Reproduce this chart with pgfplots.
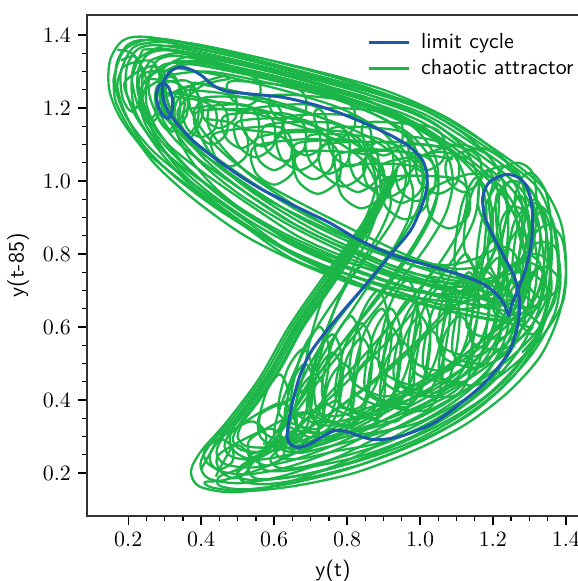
\documentclass[border=0pt]{standalone}
\usepackage{pgfplots}
\pgfplotsset{compat=1.18}
\definecolor{cgreen}{RGB}{28,182,72}
\definecolor{cblue}{RGB}{30,90,170}
\pgfplotsset{gr/.style={cgreen, line width=1.15pt, smooth, forget plot, no markers},
             bl/.style={cblue, line width=1.5pt, smooth, forget plot, no markers}}
\begin{document}
\begin{tikzpicture}
\begin{axis}[
 scale only axis, width=246pt, height=250.5pt,
 xmin=0.087, xmax=1.436, ymin=0.082, ymax=1.455,
 xtick={0.2,0.4,0.6,0.8,1.0,1.2,1.4}, ytick={0.2,0.4,0.6,0.8,1.0,1.2,1.4},
 minor tick num=3,
 tick align=outside, tick pos=left,
 major tick length=4.5pt, minor tick length=2.3pt,
 every tick/.style={black, line width=0.7pt},
 axis line style={line width=0.7pt, black!80},
 tick label style={font=\fontsize{10.95}{13}\selectfont},
 label style={font=\sffamily\fontsize{10.95}{13}\selectfont},
 xticklabel style={/pgf/number format/.cd, fixed, fixed zerofill, precision=1},
 yticklabel style={/pgf/number format/.cd, fixed, fixed zerofill, precision=1},
 xlabel={y(t)}, ylabel={y(t-85)},
 legend style={at={(axis description cs:1,1)}, anchor=north east, xshift=2.5pt, yshift=-5pt,
   draw=none, fill=none, font=\sffamily\fontsize{10.95}{13}\selectfont, row sep=0pt},
 legend cell align=left,
 legend image code/.code={\draw[#1] (0pt,0pt) -- (20pt,0pt); \path (23.5pt,0pt);},
]
\addlegendimage{cblue, line width=1.5pt}\addlegendentry{limit cycle}
\addlegendimage{cgreen, line width=1.5pt}\addlegendentry{chaotic attractor}

% nested envelope strokes
\addplot[gr] coordinates {(1.30,0.60)(1.05,0.65)(0.80,0.73)(0.644,0.79)(0.50,0.89)(0.36,0.99)(0.25,1.08)(0.18,1.17)(0.148,1.25)(0.15,1.33)(0.185,1.385)(0.25,1.395)(0.40,1.368)(0.60,1.32)(0.85,1.253)(1.03,1.193)(1.20,1.09)(1.33,0.99)(1.385,0.89)(1.40,0.78)(1.392,0.67)(1.335,0.575)(1.25,0.49)(1.12,0.40)(0.95,0.31)(0.78,0.225)(0.62,0.17)(0.49,0.147)(0.395,0.163)(0.372,0.205)(0.40,0.26)(0.47,0.34)(0.56,0.46)(0.64,0.60)(0.73,0.73)(0.84,0.88)(0.94,1.04)};
\addplot[gr] coordinates {(1.290,0.614)(1.05,0.663)(0.806,0.742)(0.651,0.803)(0.510,0.900)(0.372,0.997)(0.266,1.084)(0.198,1.170)(0.167,1.248)(0.169,1.324)(0.202,1.376)(0.264,1.386)(0.407,1.360)(0.602,1.314)(0.849,1.248)(1.025,1.188)(1.190,1.086)(1.317,0.988)(1.362,0.888)(1.378,0.78)(1.370,0.674)(1.316,0.584)(1.234,0.504)(1.11,0.418)(0.946,0.33)(0.784,0.248)(0.632,0.194)(0.508,0.172)(0.42,0.185)(0.398,0.224)(0.423,0.276)(0.488,0.352)(0.572,0.466)(0.648,0.60)(0.734,0.724)(0.842,0.874)(0.938,1.032)};
\addplot[gr] coordinates {(1.276,0.636)(1.05,0.683)(0.815,0.76)(0.661,0.823)(0.524,0.914)(0.39,1.008)(0.289,1.089)(0.225,1.17)(0.195,1.244)(0.197,1.315)(0.227,1.362)(0.286,1.372)(0.418,1.349)(0.606,1.305)(0.847,1.24)(1.018,1.18)(1.176,1.081)(1.297,0.984)(1.339,0.886)(1.356,0.78)(1.347,0.678)(1.297,0.593)(1.218,0.518)(1.10,0.436)(0.942,0.35)(0.788,0.271)(0.644,0.218)(0.526,0.196)(0.445,0.208)(0.423,0.243)(0.446,0.292)(0.506,0.364)(0.584,0.472)(0.656,0.60)(0.738,0.718)(0.844,0.868)(0.936,1.024)};
\addplot[gr] coordinates {(1.26,0.66)(1.05,0.705)(0.825,0.78)(0.672,0.845)(0.54,0.93)(0.41,1.02)(0.315,1.095)(0.255,1.17)(0.227,1.24)(0.228,1.305)(0.255,1.348)(0.31,1.358)(0.43,1.337)(0.61,1.295)(0.845,1.232)(1.01,1.172)(1.16,1.075)(1.275,0.98)(1.322,0.885)(1.340,0.78)(1.330,0.681)(1.283,0.60)(1.206,0.529)(1.093,0.450)(0.939,0.365)(0.791,0.288)(0.653,0.236)(0.540,0.215)(0.464,0.225)(0.442,0.257)(0.463,0.304)(0.520,0.373)(0.593,0.477)(0.662,0.60)(0.741,0.714)(0.846,0.864)(0.935,1.018)};
\addplot[gr] coordinates {(1.244,0.684)(1.05,0.727)(0.835,0.80)(0.683,0.867)(0.556,0.946)(0.43,1.032)(0.341,1.101)(0.285,1.17)(0.258,1.236)(0.259,1.295)(0.283,1.333)(0.334,1.343)(0.442,1.324)(0.614,1.285)(0.843,1.223)(1.002,1.163)(1.144,1.069)(1.253,0.976)(1.302,0.883)(1.321,0.78)(1.311,0.684)(1.267,0.607)(1.192,0.540)(1.084,0.465)(0.936,0.382)(0.794,0.308)(0.663,0.256)(0.555,0.236)(0.485,0.244)(0.464,0.273)(0.483,0.318)(0.535,0.383)(0.603,0.482)(0.669,0.60)(0.744,0.708)(0.847,0.858)(0.933,1.011)};
\addplot[gr] coordinates {(1.230,0.706)(1.05,0.747)(0.844,0.818)(0.693,0.887)(0.570,0.960)(0.448,1.043)(0.364,1.106)(0.312,1.17)(0.286,1.232)(0.286,1.286)(0.308,1.319)(0.356,1.329)(0.453,1.313)(0.618,1.276)(0.841,1.215)(0.995,1.155)(1.130,1.064)(1.233,0.972)(1.282,0.881)(1.301,0.78)(1.291,0.688)(1.250,0.616)(1.178,0.553)(1.075,0.481)(0.932,0.40)(0.798,0.329)(0.674,0.278)(0.571,0.258)(0.508,0.264)(0.487,0.291)(0.504,0.332)(0.551,0.394)(0.614,0.487)(0.676,0.60)(0.748,0.703)(0.849,0.853)(0.931,1.004)};
\addplot[gr] coordinates {(1.22,0.72)(1.05,0.76)(0.85,0.83)(0.70,0.90)(0.58,0.97)(0.46,1.05)(0.38,1.11)(0.33,1.17)(0.305,1.23)(0.305,1.28)(0.325,1.31)(0.37,1.32)(0.46,1.305)(0.62,1.27)(0.84,1.21)(0.99,1.15)(1.12,1.06)(1.22,0.97)(1.27,0.88)(1.29,0.78)(1.28,0.69)(1.24,0.62)(1.17,0.56)(1.07,0.49)(0.93,0.41)(0.80,0.34)(0.68,0.29)(0.58,0.27)(0.52,0.275)(0.50,0.30)(0.515,0.34)(0.56,0.40)(0.62,0.49)(0.68,0.60)(0.75,0.70)(0.85,0.85)(0.93,1.0)};

% limit-cycle-like loops
\addplot[gr] coordinates {(0.33,1.31)(0.45,1.29)(0.62,1.25)(0.78,1.20)(0.89,1.14)(0.95,1.07)(0.96,0.99)(0.93,0.90)(0.87,0.81)(0.80,0.72)(0.73,0.62)(0.68,0.53)(0.64,0.44)(0.61,0.36)(0.60,0.30)(0.62,0.265)(0.67,0.255)(0.74,0.27)(0.84,0.295)(0.95,0.33)(1.06,0.385)(1.16,0.455)(1.23,0.54)(1.27,0.63)(1.28,0.72)(1.26,0.80)(1.22,0.82)(1.16,0.79)(1.08,0.77)(0.98,0.78)(0.86,0.82)(0.72,0.88)(0.58,0.95)(0.46,1.03)(0.37,1.11)(0.31,1.19)(0.29,1.26)(0.30,1.30)(0.33,1.31)};
\addplot[gr] coordinates {(0.28,1.30)(0.36,1.34)(0.50,1.32)(0.70,1.27)(0.88,1.21)(1.00,1.15)(1.07,1.08)(1.09,1.00)(1.07,0.91)(1.01,0.81)(0.93,0.71)(0.84,0.60)(0.75,0.49)(0.67,0.38)(0.60,0.29)(0.56,0.24)(0.57,0.21)(0.62,0.205)(0.72,0.22)(0.85,0.25)(0.98,0.30)(1.10,0.37)(1.20,0.45)(1.28,0.55)(1.33,0.66)(1.35,0.78)(1.34,0.90)(1.30,0.98)(1.25,1.0)(1.21,0.96)(1.21,0.88)(1.22,0.78)(1.20,0.70)(1.12,0.68)(1.0,0.70)(0.86,0.74)(0.70,0.80)(0.55,0.88)(0.42,0.97)(0.32,1.06)(0.25,1.15)(0.23,1.23)(0.25,1.28)(0.28,1.30)};
\addplot[gr] coordinates {(0.38,1.27)(0.52,1.24)(0.66,1.20)(0.78,1.15)(0.85,1.08)(0.88,1.0)(0.86,0.92)(0.82,0.84)(0.77,0.76)(0.73,0.67)(0.70,0.57)(0.68,0.47)(0.66,0.39)(0.66,0.33)(0.69,0.30)(0.75,0.30)(0.83,0.32)(0.93,0.355)(1.03,0.40)(1.12,0.47)(1.18,0.55)(1.21,0.64)(1.21,0.72)(1.17,0.76)(1.09,0.76)(0.98,0.79)(0.85,0.85)(0.71,0.92)(0.58,0.99)(0.48,1.06)(0.41,1.13)(0.37,1.20)(0.37,1.25)(0.38,1.27)};
\addplot[gr] coordinates {(0.22,1.33)(0.30,1.37)(0.45,1.35)(0.65,1.30)(0.85,1.24)(1.02,1.17)(1.12,1.09)(1.16,1.0)(1.15,0.90)(1.10,0.80)(1.02,0.69)(0.92,0.57)(0.80,0.45)(0.68,0.34)(0.58,0.26)(0.51,0.22)(0.50,0.19)(0.55,0.18)(0.65,0.19)(0.78,0.22)(0.92,0.27)(1.06,0.335)(1.18,0.41)(1.27,0.50)(1.33,0.60)(1.36,0.70)(1.35,0.78)(1.31,0.80)(1.25,0.76)(1.18,0.72)(1.08,0.71)(0.95,0.73)(0.80,0.78)(0.64,0.85)(0.50,0.93)(0.38,1.02)(0.29,1.11)(0.23,1.20)(0.21,1.28)(0.22,1.33)};
\addplot[gr] coordinates {(0.31,1.29)(0.42,1.30)(0.58,1.27)(0.75,1.23)(0.90,1.17)(0.98,1.10)(1.01,1.02)(1.0,0.94)(0.96,0.86)(0.90,0.78)(0.83,0.69)(0.76,0.60)(0.70,0.50)(0.65,0.40)(0.62,0.32)(0.62,0.28)(0.66,0.265)(0.72,0.275)(0.80,0.30)(0.90,0.315)(1.0,0.34)(1.10,0.40)(1.18,0.47)(1.23,0.56)(1.25,0.66)(1.23,0.76)(1.20,0.86)(1.19,0.95)(1.22,1.03)(1.27,1.05)(1.31,1.02)(1.32,0.93)(1.31,0.82)(1.28,0.73)(1.24,0.66)(1.16,0.68)(1.05,0.71)(0.92,0.75)(0.78,0.81)(0.64,0.88)(0.51,0.96)(0.41,1.04)(0.34,1.12)(0.30,1.20)(0.29,1.26)(0.31,1.29)};
\addplot[gr] coordinates {(0.18,1.30)(0.22,1.37)(0.35,1.38)(0.55,1.34)(0.78,1.28)(0.98,1.21)(1.12,1.13)(1.21,1.04)(1.24,0.94)(1.22,0.84)(1.15,0.72)(1.04,0.60)(0.90,0.47)(0.75,0.36)(0.61,0.27)(0.50,0.21)(0.45,0.19)(0.45,0.165)(0.52,0.155)(0.64,0.17)(0.80,0.21)(0.96,0.27)(1.10,0.34)(1.22,0.43)(1.31,0.53)(1.37,0.64)(1.385,0.74)(1.37,0.82)(1.32,0.83)(1.26,0.77)(1.18,0.71)(1.06,0.69)(0.92,0.71)(0.76,0.76)(0.60,0.83)(0.45,0.92)(0.33,1.01)(0.24,1.10)(0.19,1.19)(0.17,1.26)(0.18,1.30)};
\addplot[gr] coordinates {(0.40,1.22)(0.50,1.21)(0.62,1.18)(0.74,1.14)(0.84,1.09)(0.90,1.02)(0.92,0.94)(0.89,0.86)(0.84,0.78)(0.79,0.70)(0.75,0.61)(0.72,0.52)(0.70,0.44)(0.69,0.38)(0.71,0.345)(0.77,0.34)(0.85,0.36)(0.94,0.39)(1.04,0.43)(1.12,0.49)(1.17,0.57)(1.19,0.65)(1.16,0.71)(1.08,0.73)(0.97,0.75)(0.85,0.80)(0.72,0.86)(0.60,0.93)(0.50,1.0)(0.43,1.07)(0.39,1.14)(0.38,1.19)(0.40,1.22)};
\addplot[gr] coordinates {(0.24,1.36)(0.32,1.36)(0.48,1.33)(0.68,1.28)(0.86,1.22)(0.98,1.15)(1.04,1.07)(1.05,0.98)(1.02,0.89)(0.96,0.79)(0.88,0.68)(0.79,0.56)(0.70,0.44)(0.62,0.33)(0.56,0.25)(0.53,0.21)(0.55,0.185)(0.62,0.185)(0.73,0.205)(0.87,0.245)(1.0,0.295)(1.13,0.37)(1.24,0.46)(1.32,0.57)(1.37,0.69)(1.38,0.80)(1.36,0.90)(1.31,0.94)(1.26,0.89)(1.24,0.80)(1.23,0.72)(1.18,0.66)(1.08,0.65)(0.95,0.68)(0.80,0.73)(0.65,0.80)(0.50,0.89)(0.37,0.99)(0.28,1.09)(0.22,1.19)(0.21,1.28)(0.24,1.36)};
\addplot[gr] coordinates {(0.26,1.33)(0.34,1.35)(0.50,1.31)(0.70,1.26)(0.88,1.20)(1.02,1.14)(1.10,1.06)(1.13,0.97)(1.11,0.87)(1.05,0.77)(0.97,0.67)(0.88,0.56)(0.79,0.46)(0.70,0.36)(0.63,0.28)(0.59,0.24)(0.61,0.215)(0.67,0.215)(0.77,0.24)(0.90,0.28)(1.03,0.34)(1.15,0.42)(1.24,0.52)(1.29,0.63)(1.30,0.75)(1.27,0.86)(1.26,0.95)(1.28,1.01)(1.31,1.02)(1.345,0.97)(1.36,0.87)(1.35,0.76)(1.31,0.67)(1.25,0.62)(1.15,0.63)(1.02,0.66)(0.88,0.70)(0.72,0.77)(0.57,0.85)(0.44,0.94)(0.34,1.03)(0.27,1.13)(0.24,1.22)(0.24,1.29)(0.26,1.33)};
\addplot[gr] coordinates {(0.36,1.25)(0.46,1.24)(0.60,1.21)(0.74,1.17)(0.86,1.12)(0.94,1.06)(0.98,0.98)(0.97,0.90)(0.93,0.82)(0.87,0.73)(0.81,0.64)(0.75,0.55)(0.70,0.46)(0.66,0.38)(0.64,0.32)(0.66,0.29)(0.71,0.285)(0.79,0.305)(0.89,0.33)(0.99,0.37)(1.09,0.42)(1.17,0.50)(1.22,0.59)(1.24,0.69)(1.23,0.79)(1.22,0.88)(1.25,0.93)(1.29,0.91)(1.30,0.82)(1.28,0.72)(1.24,0.67)(1.15,0.66)(1.04,0.69)(0.92,0.72)(0.79,0.77)(0.66,0.83)(0.54,0.90)(0.44,0.98)(0.37,1.06)(0.33,1.14)(0.33,1.21)(0.36,1.25)};
\addplot[gr] coordinates {(0.16,1.28)(0.19,1.36)(0.28,1.39)(0.45,1.36)(0.68,1.31)(0.90,1.25)(1.08,1.17)(1.22,1.07)(1.30,0.96)(1.33,0.85)(1.31,0.74)(1.24,0.63)(1.13,0.53)(0.99,0.43)(0.84,0.34)(0.69,0.27)(0.56,0.21)(0.46,0.18)(0.41,0.175)(0.43,0.16)(0.52,0.15)(0.66,0.165)(0.82,0.20)(0.98,0.26)(1.12,0.33)(1.24,0.42)(1.33,0.52)(1.38,0.63)(1.40,0.74)(1.39,0.84)(1.35,0.88)(1.30,0.84)(1.27,0.76)(1.22,0.70)(1.12,0.67)(0.99,0.68)(0.84,0.71)(0.68,0.77)(0.52,0.85)(0.38,0.95)(0.27,1.05)(0.20,1.15)(0.165,1.22)(0.16,1.28)};
\addplot[gr] coordinates {(0.42,1.20)(0.52,1.19)(0.64,1.16)(0.75,1.12)(0.84,1.06)(0.88,0.99)(0.88,0.91)(0.85,0.83)(0.81,0.75)(0.77,0.66)(0.74,0.57)(0.72,0.49)(0.71,0.42)(0.72,0.37)(0.76,0.355)(0.83,0.37)(0.92,0.40)(1.01,0.44)(1.09,0.50)(1.14,0.57)(1.16,0.65)(1.14,0.72)(1.08,0.75)(0.98,0.77)(0.86,0.82)(0.74,0.88)(0.63,0.95)(0.53,1.02)(0.46,1.09)(0.42,1.15)(0.42,1.20)};
\addplot[gr] coordinates {(0.30,1.30)(0.38,1.33)(0.52,1.30)(0.70,1.25)(0.86,1.19)(0.97,1.13)(1.03,1.06)(1.05,0.98)(1.03,0.90)(0.98,0.81)(0.91,0.71)(0.83,0.61)(0.75,0.51)(0.68,0.41)(0.62,0.32)(0.60,0.27)(0.62,0.24)(0.68,0.24)(0.77,0.26)(0.88,0.28)(1.0,0.32)(1.11,0.38)(1.20,0.46)(1.25,0.55)(1.27,0.65)(1.25,0.75)(1.20,0.84)(1.16,0.93)(1.17,1.01)(1.22,1.04)(1.27,1.02)(1.29,0.94)(1.28,0.84)(1.26,0.75)(1.22,0.68)(1.14,0.69)(1.04,0.72)(0.92,0.76)(0.78,0.82)(0.64,0.89)(0.52,0.97)(0.42,1.05)(0.35,1.13)(0.31,1.21)(0.30,1.27)(0.30,1.30)};
\addplot[gr] coordinates {(0.25,1.27)(0.30,1.32)(0.42,1.32)(0.60,1.28)(0.80,1.22)(0.98,1.15)(1.10,1.07)(1.18,0.98)(1.20,0.88)(1.17,0.78)(1.10,0.68)(1.00,0.57)(0.88,0.46)(0.75,0.36)(0.63,0.28)(0.54,0.23)(0.50,0.20)(0.52,0.175)(0.59,0.17)(0.71,0.19)(0.86,0.23)(1.01,0.29)(1.15,0.37)(1.26,0.47)(1.33,0.58)(1.35,0.68)(1.33,0.76)(1.27,0.78)(1.21,0.74)(1.12,0.72)(1.0,0.73)(0.86,0.76)(0.71,0.81)(0.57,0.88)(0.45,0.96)(0.35,1.05)(0.28,1.14)(0.25,1.21)(0.25,1.27)};

% curls in the upper arm
\addplot[gr] coordinates {(0.33,1.23)(0.40,1.22)(0.439,1.195)(0.439,1.145)(0.40,1.12)(0.361,1.145)(0.361,1.195)(0.51,1.21)(0.554,1.18)(0.554,1.12)(0.51,1.09)(0.467,1.12)(0.467,1.18)(0.63,1.185)(0.682,1.153)(0.682,1.088)(0.63,1.055)(0.578,1.088)(0.578,1.153)(0.75,1.16)(0.802,1.125)(0.802,1.055)(0.75,1.02)(0.698,1.055)(0.698,1.125)(0.87,1.12)(0.922,1.085)(0.922,1.015)(0.87,0.98)(0.818,1.015)(0.818,1.085)(0.99,1.075)(1.038,1.043)(1.038,0.978)(0.99,0.945)(0.942,0.978)(0.942,1.043)(1.05,1.08)(1.13,1.06)};
\addplot[gr] coordinates {(0.37,1.27)(0.45,1.255)(0.494,1.228)(0.494,1.173)(0.45,1.145)(0.407,1.173)(0.407,1.228)(0.57,1.225)(0.618,1.193)(0.618,1.128)(0.57,1.095)(0.522,1.128)(0.522,1.193)(0.69,1.21)(0.742,1.175)(0.742,1.105)(0.69,1.07)(0.638,1.105)(0.638,1.175)(0.81,1.18)(0.862,1.145)(0.862,1.075)(0.81,1.04)(0.758,1.075)(0.758,1.145)(0.93,1.14)(0.982,1.105)(0.982,1.035)(0.93,1.0)(0.878,1.035)(0.878,1.105)(1.05,1.095)(1.102,1.063)(1.102,0.998)(1.05,0.965)(0.998,0.998)(0.998,1.063)(1.11,1.10)(1.19,1.07)};
\addplot[gr] coordinates {(0.26,1.28)(0.33,1.27)(0.36,1.24)(0.36,1.18)(0.33,1.15)(0.30,1.18)(0.30,1.24)(0.43,1.22)(0.469,1.19)(0.469,1.13)(0.43,1.10)(0.391,1.13)(0.391,1.19)(0.55,1.195)(0.598,1.163)(0.598,1.098)(0.55,1.065)(0.502,1.098)(0.502,1.163)(0.67,1.17)(0.722,1.135)(0.722,1.065)(0.67,1.03)(0.618,1.065)(0.618,1.135)(0.79,1.135)(0.847,1.098)(0.847,1.023)(0.79,0.985)(0.734,1.023)(0.734,1.098)(0.91,1.105)(0.967,1.068)(0.967,0.993)(0.91,0.955)(0.854,0.993)(0.854,1.068)(0.98,1.10)(1.07,1.09)};
\addplot[gr] coordinates {(0.52,1.14)(0.60,1.13)(0.652,1.095)(0.652,1.025)(0.60,0.99)(0.548,1.025)(0.548,1.095)(0.72,1.115)(0.777,1.078)(0.777,1.003)(0.72,0.965)(0.664,1.003)(0.664,1.078)(0.84,1.075)(0.897,1.038)(0.897,0.963)(0.84,0.925)(0.784,0.963)(0.784,1.038)(0.96,1.045)(1.017,1.008)(1.017,0.933)(0.96,0.895)(0.904,0.933)(0.904,1.008)(1.08,1.01)(1.132,0.975)(1.132,0.905)(1.08,0.87)(1.028,0.905)(1.028,0.975)(1.14,1.02)(1.22,1.0)};
\addplot[gr] coordinates {(0.41,1.17)(0.48,1.16)(0.524,1.13)(0.524,1.07)(0.48,1.04)(0.437,1.07)(0.437,1.13)(0.60,1.15)(0.644,1.12)(0.644,1.06)(0.60,1.03)(0.557,1.06)(0.557,1.12)(0.71,1.135)(0.758,1.103)(0.758,1.038)(0.71,1.005)(0.662,1.038)(0.662,1.103)(0.83,1.11)(0.882,1.075)(0.882,1.005)(0.83,0.97)(0.778,1.005)(0.778,1.075)(0.95,1.08)(1.002,1.045)(1.002,0.975)(0.95,0.94)(0.898,0.975)(0.898,1.045)(1.01,1.07)(1.09,1.06)};
\addplot[gr] coordinates {(0.44,1.31)(0.52,1.295)(0.559,1.273)(0.559,1.228)(0.52,1.205)(0.481,1.228)(0.481,1.273)(0.64,1.26)(0.684,1.235)(0.684,1.185)(0.64,1.16)(0.597,1.185)(0.597,1.235)(0.77,1.225)(0.818,1.198)(0.818,1.143)(0.77,1.115)(0.722,1.143)(0.722,1.198)(0.90,1.19)(0.948,1.16)(0.948,1.10)(0.90,1.07)(0.852,1.10)(0.852,1.16)(1.02,1.15)(1.064,1.12)(1.064,1.06)(1.02,1.03)(0.977,1.06)(0.977,1.12)(1.12,1.09)(1.164,1.06)(1.164,1.0)(1.12,0.97)(1.077,1.0)(1.077,1.06)(1.17,1.09)(1.24,1.05)};
\addplot[gr] coordinates {(0.17,1.36)(0.21,1.35)(0.236,1.31)(0.236,1.23)(0.21,1.19)(0.184,1.23)(0.184,1.31)(0.26,1.33)(0.286,1.29)(0.286,1.21)(0.26,1.17)(0.234,1.21)(0.234,1.29)(0.31,1.30)(0.34,1.26)(0.34,1.18)(0.31,1.14)(0.28,1.18)(0.28,1.26)(0.36,1.275)(0.39,1.238)(0.39,1.163)(0.36,1.125)(0.33,1.163)(0.33,1.238)(0.40,1.27)(0.47,1.29)};
\addplot[gr] coordinates {(0.18,1.33)(0.22,1.34)(0.25,1.27)(0.22,1.20)(0.19,1.27)(0.27,1.315)(0.302,1.24)(0.27,1.165)(0.238,1.24)(0.32,1.285)(0.355,1.21)(0.32,1.135)(0.285,1.21)(0.37,1.26)(0.405,1.19)(0.37,1.12)(0.335,1.19)(0.40,1.26)(0.48,1.28)};

% curls in the lower arm
\addplot[gr] coordinates {(0.57,0.28)(0.64,0.30)(0.685,0.36)(0.705,0.48)(0.68,0.54)(0.635,0.48)(0.615,0.36)(0.72,0.32)(0.765,0.385)(0.785,0.515)(0.76,0.58)(0.715,0.515)(0.695,0.385)(0.80,0.33)(0.849,0.40)(0.869,0.54)(0.84,0.61)(0.791,0.54)(0.771,0.40)(0.88,0.35)(0.929,0.425)(0.949,0.575)(0.92,0.65)(0.871,0.575)(0.851,0.425)(0.96,0.38)(1.009,0.455)(1.029,0.605)(1.0,0.68)(0.951,0.605)(0.931,0.455)(1.04,0.41)(1.089,0.485)(1.109,0.635)(1.08,0.71)(1.031,0.635)(1.011,0.485)(1.12,0.45)(1.169,0.525)(1.189,0.675)(1.16,0.75)(1.111,0.675)(1.091,0.525)(1.19,0.50)(1.26,0.55)};
\addplot[gr] coordinates {(0.60,0.28)(0.675,0.30)(0.726,0.375)(0.752,0.525)(0.725,0.60)(0.674,0.525)(0.649,0.375)(0.76,0.33)(0.811,0.405)(0.837,0.555)(0.81,0.63)(0.759,0.555)(0.734,0.405)(0.845,0.35)(0.896,0.425)(0.922,0.575)(0.895,0.65)(0.844,0.575)(0.819,0.425)(0.925,0.38)(0.976,0.455)(1.002,0.605)(0.975,0.68)(0.924,0.605)(0.899,0.455)(1.005,0.41)(1.056,0.485)(1.082,0.635)(1.055,0.71)(1.004,0.635)(0.979,0.485)(1.085,0.45)(1.136,0.525)(1.162,0.675)(1.135,0.75)(1.084,0.675)(1.059,0.525)(1.165,0.49)(1.216,0.565)(1.242,0.715)(1.215,0.79)(1.164,0.715)(1.139,0.565)(1.23,0.54)(1.31,0.60)};
\addplot[gr] coordinates {(0.53,0.25)(0.585,0.27)(0.622,0.32)(0.638,0.42)(0.615,0.47)(0.578,0.42)(0.562,0.32)(0.655,0.28)(0.692,0.335)(0.708,0.445)(0.685,0.50)(0.648,0.445)(0.632,0.335)(0.73,0.31)(0.772,0.365)(0.788,0.475)(0.76,0.53)(0.718,0.475)(0.702,0.365)(0.81,0.33)(0.852,0.39)(0.868,0.51)(0.84,0.57)(0.798,0.51)(0.782,0.39)(0.89,0.36)(0.932,0.42)(0.948,0.54)(0.92,0.60)(0.878,0.54)(0.862,0.42)(0.97,0.39)(1.012,0.45)(1.028,0.57)(1.0,0.63)(0.958,0.57)(0.942,0.45)(1.04,0.42)(1.11,0.45)};
\addplot[gr] coordinates {(0.78,0.38)(0.835,0.38)(0.886,0.46)(0.912,0.62)(0.885,0.70)(0.834,0.62)(0.809,0.46)(0.915,0.41)(0.966,0.49)(0.992,0.65)(0.965,0.73)(0.914,0.65)(0.889,0.49)(0.995,0.44)(1.046,0.52)(1.072,0.68)(1.045,0.76)(0.994,0.68)(0.969,0.52)(1.075,0.48)(1.126,0.56)(1.152,0.72)(1.125,0.80)(1.074,0.72)(1.049,0.56)(1.155,0.52)(1.206,0.60)(1.232,0.76)(1.205,0.84)(1.154,0.76)(1.129,0.60)(1.225,0.57)(1.272,0.645)(1.298,0.795)(1.275,0.87)(1.228,0.795)(1.202,0.645)(1.27,0.62)(1.33,0.66)};
\addplot[gr] coordinates {(0.63,0.29)(0.69,0.29)(0.73,0.335)(0.74,0.425)(0.71,0.47)(0.67,0.425)(0.66,0.335)(0.77,0.30)(0.81,0.35)(0.82,0.45)(0.79,0.50)(0.75,0.45)(0.74,0.35)(0.85,0.32)(0.894,0.37)(0.904,0.47)(0.87,0.52)(0.826,0.47)(0.816,0.37)(0.93,0.34)(0.974,0.395)(0.984,0.505)(0.95,0.56)(0.906,0.505)(0.896,0.395)(1.01,0.37)(1.054,0.425)(1.064,0.535)(1.03,0.59)(0.986,0.535)(0.976,0.425)(1.09,0.41)(1.134,0.465)(1.144,0.575)(1.11,0.63)(1.066,0.575)(1.056,0.465)(1.15,0.44)(1.22,0.48)};

% right lobe
\addplot[gr] coordinates {(1.07,0.66)(1.125,0.67)(1.168,0.755)(1.182,0.925)(1.155,1.01)(1.112,0.925)(1.098,0.755)(1.185,0.65)(1.228,0.735)(1.242,0.905)(1.215,0.99)(1.172,0.905)(1.158,0.735)(1.245,0.62)(1.288,0.705)(1.302,0.875)(1.275,0.96)(1.232,0.875)(1.218,0.705)(1.305,0.58)(1.348,0.665)(1.362,0.835)(1.335,0.92)(1.292,0.835)(1.278,0.665)(1.33,0.60)(1.28,0.53)};
\addplot[gr] coordinates {(1.10,0.74)(1.155,0.73)(1.202,0.805)(1.216,0.955)(1.185,1.03)(1.138,0.955)(1.124,0.805)(1.22,0.70)(1.267,0.775)(1.281,0.925)(1.25,1.0)(1.203,0.925)(1.189,0.775)(1.285,0.65)(1.332,0.725)(1.346,0.875)(1.315,0.95)(1.268,0.875)(1.254,0.725)(1.31,0.66)(1.25,0.60)};
\addplot[gr] coordinates {(1.22,0.74)(1.30,0.75)(1.35,0.70)(1.30,0.65)(1.25,0.70)(1.34,0.765)(1.385,0.72)(1.34,0.675)(1.295,0.72)(1.33,0.77)(1.30,0.80)};

% lower-left curls
\addplot[gr] coordinates {(0.40,0.21)(0.45,0.29)(0.485,0.27)(0.485,0.23)(0.45,0.21)(0.415,0.23)(0.415,0.27)(0.53,0.34)(0.574,0.315)(0.574,0.265)(0.53,0.24)(0.487,0.265)(0.487,0.315)(0.61,0.39)(0.658,0.36)(0.658,0.30)(0.61,0.27)(0.562,0.30)(0.562,0.36)(0.64,0.40)(0.70,0.44)};
\addplot[gr] coordinates {(0.44,0.19)(0.49,0.275)(0.529,0.253)(0.529,0.208)(0.49,0.185)(0.451,0.208)(0.451,0.253)(0.58,0.32)(0.624,0.295)(0.624,0.245)(0.58,0.22)(0.537,0.245)(0.537,0.295)(0.67,0.365)(0.718,0.338)(0.718,0.283)(0.67,0.255)(0.622,0.283)(0.622,0.338)(0.71,0.37)(0.77,0.40)};

% limit cycle
\addplot[bl] coordinates {(0.342,1.148)(0.31,1.19)(0.295,1.23)(0.296,1.27)(0.315,1.30)(0.342,1.312)(0.37,1.306)(0.40,1.29)(0.433,1.262)(0.47,1.246)(0.54,1.238)(0.62,1.23)(0.70,1.212)(0.77,1.19)(0.845,1.16)(0.918,1.126)(0.97,1.095)(1.005,1.06)(1.019,1.02)(1.018,0.98)(1.008,0.94)(0.975,0.866)(0.918,0.797)(0.855,0.72)(0.79,0.645)(0.74,0.585)(0.70,0.53)(0.672,0.47)(0.652,0.40)(0.640,0.34)(0.636,0.30)(0.645,0.278)(0.668,0.270)(0.695,0.278)(0.725,0.295)(0.763,0.316)(0.80,0.313)(0.836,0.300)(0.881,0.291)(0.945,0.300)(1.036,0.336)(1.11,0.39)(1.17,0.44)(1.215,0.49)(1.247,0.537)(1.265,0.59)(1.273,0.645)(1.271,0.69)(1.258,0.74)(1.232,0.79)(1.20,0.85)(1.178,0.902)(1.172,0.955)(1.19,0.997)(1.237,1.018)(1.272,1.008)(1.295,0.98)(1.308,0.92)(1.306,0.835)(1.29,0.76)(1.268,0.70)(1.252,0.663)(1.243,0.633)(1.232,0.66)(1.21,0.69)(1.173,0.718)(1.11,0.743)(1.055,0.76)(0.99,0.778)(0.918,0.80)(0.83,0.84)(0.753,0.885)(0.66,0.93)(0.57,0.975)(0.50,1.018)(0.433,1.066)(0.38,1.108)(0.342,1.148)};
\addplot[bl] coordinates {(0.282,1.205)(0.277,1.235)(0.284,1.26)(0.297,1.268)(0.311,1.256)(0.321,1.225)(0.32,1.19)(0.31,1.172)(0.297,1.178)(0.286,1.195)(0.282,1.205)};
\end{axis}
\pgfresetboundingbox
\path[use as bounding box] ([xshift=-43.5pt,yshift=-32.5pt]current axis.south west) rectangle ([xshift=-0.6pt,yshift=7.5pt]current axis.north east);
\end{tikzpicture}
\end{document}
